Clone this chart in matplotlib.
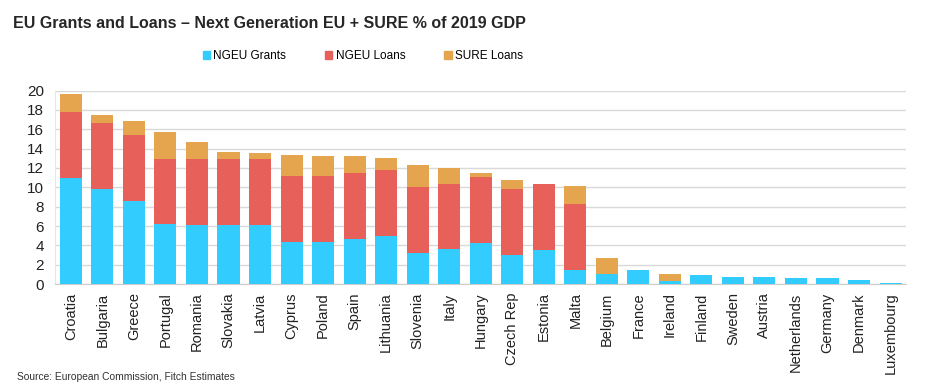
import numpy as np
import matplotlib.pyplot as plt
from matplotlib.patches import Patch

plt.rcParams['font.family'] = ['Liberation Sans', 'DejaVu Sans']

countries = ['Croatia', 'Bulgaria', 'Greece', 'Portugal', 'Romania', 'Slovakia', 'Latvia',
             'Cyprus', 'Poland', 'Spain', 'Lithuania', 'Slovenia', 'Italy', 'Hungary',
             'Czech Rep', 'Estonia', 'Malta', 'Belgium', 'France', 'Ireland', 'Finland',
             'Sweden', 'Austria', 'Netherlands', 'Germany', 'Denmark', 'Luxembourg']
grants = [11.0, 9.83, 8.62, 6.17, 6.1, 6.1, 6.1, 4.34, 4.34, 4.66, 4.97, 3.21, 3.59, 4.24,
          3.0, 3.55, 1.45, 1.0, 1.45, 0.31, 0.93, 0.72, 0.72, 0.62, 0.62, 0.41, 0.1]
loans = [6.8, 6.83, 6.79, 6.8, 6.83, 6.83, 6.83, 6.83, 6.8, 6.82, 6.82, 6.79, 6.79, 6.83,
         6.83, 6.83, 6.86, 0, 0, 0, 0, 0, 0, 0, 0, 0, 0]
sure = [1.86, 0.82, 1.45, 2.75, 1.79, 0.73, 0.62, 2.17, 2.14, 1.76, 1.24, 2.31, 1.59, 0.41,
        0.93, 0.0, 1.83, 1.69, 0, 0.72, 0, 0, 0, 0, 0, 0, 0]

c_grant = '#33CCFF'
c_loan = '#E8605A'
c_sure = '#E5A54F'

fig = plt.figure(figsize=(9.5, 3.87), dpi=100)
ax = fig.add_axes([0.058, 0.266, 0.896, 0.5])

x = np.arange(len(countries))
g = np.array(grants)
l = np.array(loans)
s = np.array(sure)
w = 0.7
ax.bar(x, g, w, color=c_grant, zorder=3)
ax.bar(x, l, w, bottom=g, color=c_loan, zorder=3)
ax.bar(x, s, w, bottom=g + l, color=c_sure, zorder=3)

ax.set_xlim(-0.5, len(countries) - 0.5)
ax.set_ylim(0, 20)
ax.set_yticks(np.arange(0, 21, 2))
ax.set_xticks(x)
ax.set_xticklabels(countries, rotation=90, fontsize=10.5, color='#222222')
ax.tick_params(axis='y', labelsize=11, colors='#222222', length=0, pad=8)
ax.tick_params(axis='x', length=0, pad=6)
ax.grid(axis='y', color='#d9d9d9', linewidth=1, zorder=0)
for sp in ['top', 'right']:
    ax.spines[sp].set_visible(False)
ax.spines['left'].set_color('#e6e6e6')
ax.spines['bottom'].set_color('#cccccc')

fig.text(0.014, 0.94, 'EU Grants and Loans \u2013 Next Generation EU + SURE % of 2019 GDP',
         fontsize=11.5, fontweight='bold', color='#262626', va='center')

handles = [Patch(color=c_grant, label='NGEU Grants'),
           Patch(color=c_loan, label='NGEU Loans'),
           Patch(color=c_sure, label='SURE Loans')]
fig.legend(handles=handles, loc='center', bbox_to_anchor=(0.382, 0.855), ncol=3,
           frameon=False, fontsize=8.5, handlelength=0.6,
           handleheight=0.6, handletextpad=0.3, columnspacing=3.3)

fig.text(0.018, 0.026, 'Source: European Commission, Fitch Estimates', fontsize=7.4,
         color='#333333', va='center')

fig.savefig('out.png', dpi=100)
